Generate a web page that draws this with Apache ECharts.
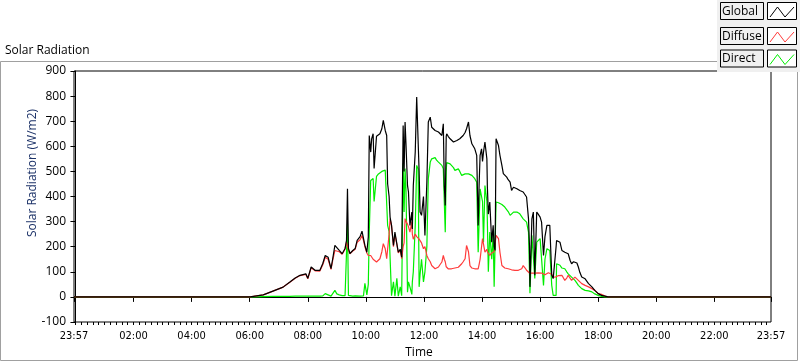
<!DOCTYPE html>
<html><head><meta charset="utf-8">
<script src="https://cdn.jsdelivr.net/npm/echarts@6/dist/echarts.min.js"></script>
<style>html,body{margin:0;padding:0;background:#fff}#c{width:800px;height:361px}</style>
</head><body><div id="c"></div>
<script>
// Time of each sample, minutes after midnight (-3 = 23:57 previous day, 1437 = 23:57)
var times = [-3,361,371,388,408,429,443,454,464,476,480,487,495,505,511,516,522,528,532,536,540,545,551,557,560,562,564,567,573,578,582,588,592,595,598,602,605,607,610,612,615,617,622,626,629,633,636,640,643,645,648,650,653,657,660,664,667,671,674,677,679,681,683,686,688,691,695,696,698,702,705,708,710,712,715,719,722,726,729,733,736,739,743,746,750,753,757,760,762,764,766,767,770,774,777,781,784,788,791,794,798,801,805,808,812,815,819,822,825,829,832,834,836,839,841,843,846,850,851,853,856,860,863,865,867,869,872,874,877,881,884,887,891,894,898,901,905,908,912,915,918,922,925,929,932,936,938,939,943,946,949,953,956,960,963,967,970,974,977,980,984,987,991,993,994,998,1001,1005,1008,1011,1015,1018,1022,1025,1029,1032,1036,1039,1042,1046,1053,1060,1067,1073,1080,1087,1094,1100,1437];
var globalRad = [0,0,3,8,23,39,59,75,86,92,74,119,106,106,133,165,158,113,158,205,198,185,172,193,225,431,193,173,185,193,225,240,262,265,205,178,238,643,577,630,650,512,640,643,650,670,703,663,643,450,400,318,285,205,258,211,178,190,158,683,500,697,603,444,418,285,338,271,444,577,796,790,500,338,325,400,245,457,697,716,676,670,663,660,657,650,643,690,444,364,640,650,640,630,625,617,620,623,625,630,635,643,655,670,697,643,610,600,590,564,285,450,564,590,540,577,617,550,440,330,378,218,285,200,185,630,623,603,564,524,491,484,477,467,457,424,437,431,431,428,424,420,418,411,398,311,205,40,311,338,86,338,330,318,298,165,240,285,290,285,86,73,80,200,225,222,218,185,182,178,175,172,145,132,140,145,135,119,98,79,72,53,40,26,13,6,3,0,0];
var diffuseRad = [0,0,3,8,23,39,58,74,85,90,72,116,104,103,128,158,150,110,150,185,192,180,170,190,218,200,188,172,183,190,218,228,245,225,200,175,165,165,165,160,150,145,139,145,152,180,212,192,152,150,250,312,285,200,250,210,175,185,152,200,215,312,300,290,280,258,300,250,230,250,240,240,230,230,215,192,200,165,152,140,125,118,112,115,119,128,139,165,150,140,120,115,112,112,112,112,115,116,118,119,132,140,152,205,180,125,115,112,112,112,112,130,150,200,232,232,178,190,180,175,165,175,178,180,180,245,240,232,178,125,119,115,112,112,110,108,106,106,106,106,106,112,125,115,106,99,95,92,95,99,95,95,96,99,95,90,88,92,96,99,90,79,79,80,79,85,92,86,86,66,75,86,80,66,70,79,75,66,60,53,46,40,33,26,13,10,3,0,0];
var directRad = [0,0,0,1,2,2,2,3,3,3,2,3,3,3,4,13,8,3,8,26,12,8,5,5,10,290,6,3,3,4,3,3,5,4,54,8,50,258,464,470,472,380,480,490,497,500,504,505,510,285,260,258,5,60,3,74,3,40,5,531,338,511,420,19,60,40,10,60,100,285,524,510,40,90,150,60,100,200,471,537,550,557,555,545,537,530,524,510,380,258,500,535,531,530,524,515,504,505,510,500,484,487,490,490,490,488,484,478,471,457,178,300,430,400,380,218,444,380,300,100,258,150,250,40,33,378,378,375,371,368,364,358,351,340,325,332,338,338,338,335,331,325,311,305,298,258,100,15,245,245,73,218,225,232,230,46,150,192,190,185,46,6,6,6,132,130,126,115,110,112,100,92,85,79,72,66,55,46,40,33,26,24,20,12,6,2,0,0,0];
// Axis tick labels
var xTickMinutes = [-3,120,240,360,480,600,720,840,960,1080,1200,1320,1437];
var xTickLabels = ['23:57','02:00','04:00','06:00','08:00','10:00','12:00','14:00','16:00','18:00','20:00','22:00','23:57'];
var seriesNames = ['Global','Diffuse','Direct'];

function pairs(v){return times.map(function(t,i){return [t,v[i]];});}
var minorTicks=[];for(var m=0;m<=1428;m+=12)minorTicks.push(m);

var chart = echarts.init(document.getElementById('c'),null,{renderer:'canvas'});
var labelFont = 'DejaVu Sans Condensed';
var uiFont = 'Open Sans';
var legendY=[2,27,49.5];
var legendColors=['#000000','#ff3b3b','#00ee00'];
var gfx=[
  {type:'rect',shape:{x:0.5,y:61.5,width:797,height:299},style:{fill:'#fff',stroke:'#a0a0a0',lineWidth:1},z:-10},
  {type:'text',x:5,y:51,style:{text:'Solar Radiation',font:'12px '+uiFont,fill:'#000',textVerticalAlign:'middle'}},
  {type:'text',x:33,y:173,rotation:Math.PI/2,style:{text:'Solar Radiation (W/m2)',font:'12px '+uiFont,fill:'#1c3268',textAlign:'center',textVerticalAlign:'middle'}},
  {type:'text',x:419,y:353,style:{text:'Time',font:'12px '+uiFont,fill:'#000',textAlign:'center',textVerticalAlign:'middle'}},
  {type:'rect',shape:{x:717,y:0,width:83,height:72},style:{fill:'#f0f0f0',stroke:null},z:10}
];
seriesNames.forEach(function(n,i){
  var y=legendY[i];
  gfx.push({type:'rect',shape:{x:720.5,y:y+0.5,width:43,height:17},style:{fill:'#f0f0f0',stroke:'#000',lineWidth:1},z:11});
  gfx.push({type:'text',x:722,y:y+9.5,style:{text:n,font:'12px '+uiFont,fill:'#000',textVerticalAlign:'middle'},z:12});
  gfx.push({type:'rect',shape:{x:767.5,y:y+0.5,width:29,height:17},style:{fill:'#fff',stroke:'#000',lineWidth:1},z:11});
  gfx.push({type:'polyline',shape:{points:[[770,y+15],[777.5,y+5],[785,y+15],[794,y+5]]},style:{stroke:legendColors[i],lineWidth:1,fill:null},z:12});
});

chart.setOption({
  animation:false,
  backgroundColor:'#fff',
  grid:{left:74,right:29,top:71,bottom:39,show:true,borderColor:'#000',borderWidth:1,backgroundColor:'#fff'},
  xAxis:[{
    type:'value',min:-3,max:1437,
    axisLine:{lineStyle:{color:'#000'}},
    splitLine:{show:false},
    axisTick:{customValues:xTickMinutes,length:5,lineStyle:{color:'#000'}},
    axisLabel:{customValues:xTickMinutes,margin:9,color:'#000',fontFamily:labelFont,fontSize:11,
      formatter:function(v){var i=xTickMinutes.indexOf(v);return i>=0?xTickLabels[i]:'';}}
  },{
    type:'value',min:-3,max:1437,position:'bottom',
    axisLine:{show:false},splitLine:{show:false},
    axisTick:{customValues:minorTicks,length:3,lineStyle:{color:'#000'}},
    axisLabel:{show:false}
  }],
  yAxis:{type:'value',min:-100,max:900,interval:100,
    axisLine:{show:true,lineStyle:{color:'#000'}},
    splitLine:{show:false},
    axisTick:{show:true,length:5,lineStyle:{color:'#000'}},
    axisLabel:{margin:8,color:'#000',fontFamily:uiFont,fontSize:12}
  },
  series:[
    {name:'Direct',type:'line',data:pairs(directRad),showSymbol:false,lineStyle:{color:legendColors[2],width:1.2},z:2},
    {name:'Diffuse',type:'line',data:pairs(diffuseRad),showSymbol:false,lineStyle:{color:legendColors[1],width:1.2},z:3},
    {name:'Global',type:'line',data:pairs(globalRad),showSymbol:false,lineStyle:{color:legendColors[0],width:1.2},z:4}
  ],
  graphic:gfx
});
</script></body></html>
